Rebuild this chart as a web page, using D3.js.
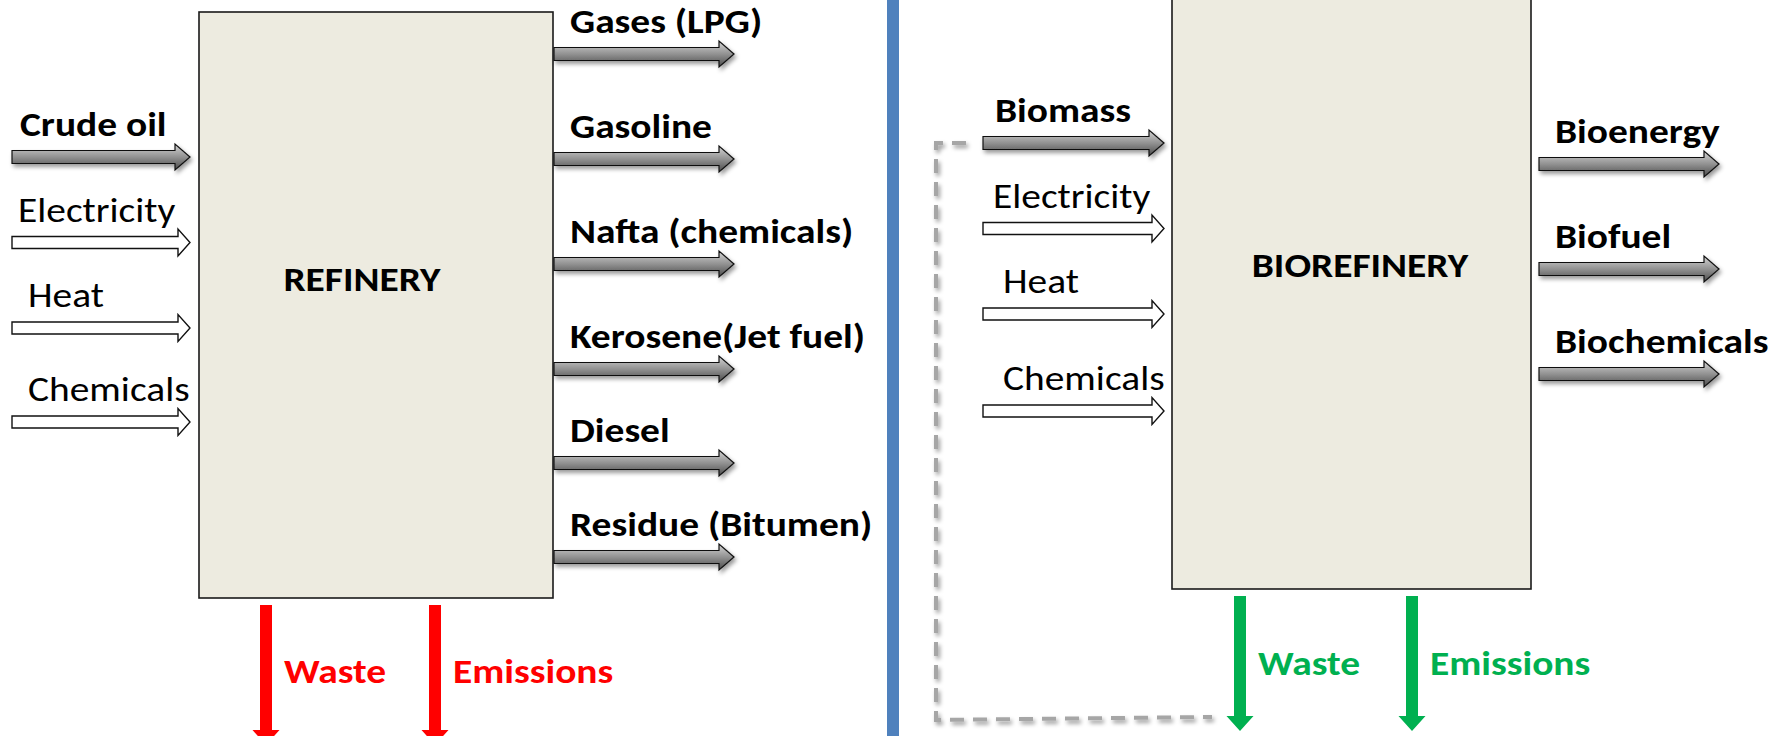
<!DOCTYPE html>
<html lang="en">
<head>
    <meta charset="UTF-8">
    <title>Refinery vs Biorefinery</title>
    <style>
        body { margin: 0; background: #fff; }
        svg { display: block; }
        text { font-family: Carlito, Calibri, Lato, sans-serif; }
    </style>
</head>
<body>
    <svg width="1791" height="736"></svg>
    <script src="https://d3js.org/d3.v7.min.js"></script>
    <script>

        // ---- data ----
        const refineryInputs = ["Crude oil", "Electricity", "Heat", "Chemicals"];
        const refineryInputKinds = ["main", "utility", "utility", "utility"];
        const refineryOutputs = ["Gases (LPG)", "Gasoline", "Nafta (chemicals)", "Kerosene(Jet fuel)", "Diesel", "Residue (Bitumen)"];
        const refineryReleases = ["Waste", "Emissions"];

        const biorefineryInputs = ["Biomass", "Electricity", "Heat", "Chemicals"];
        const biorefineryInputKinds = ["main", "utility", "utility", "utility"];
        const biorefineryOutputs = ["Bioenergy", "Biofuel", "Biochemicals"];
        const biorefineryReleases = ["Waste", "Emissions"];

        // ---- layout ----
        const W = 1791, H = 736;
        const sx = 1.16; // horizontal stretch of the slide text
        const fontSize = 34;

        const panels = [
            {
                name: "REFINERY", box: [199, 12, 553, 598], nameX: 362, nameY: 291,
                inputs: refineryInputs, kinds: refineryInputKinds,
                yIn: d3.scaleLinear().domain([0, 2, 3]).range([157, 328, 422]),
                inX: [12, 190], inLabelX: 20,
                outputs: refineryOutputs,
                yOut: d3.scaleLinear().domain([0, 3, 5]).range([54, 369, 557]),
                outX: [554, 734], outLabelX: 570,
                releases: refineryReleases,
                xRel: d3.scalePoint().domain(refineryReleases).range([266, 435]),
                relY: [605, 745], relLabelY: 683, relColor: "#ff0000"
            },
            {
                name: "BIOREFINERY", box: [1172, -4, 1531, 589], nameX: 1360, nameY: 277,
                inputs: biorefineryInputs, kinds: biorefineryInputKinds,
                yIn: d3.scaleLinear().domain([0, 2, 3]).range([143, 314, 411]),
                inX: [983, 1164], inLabelX: 995,
                outputs: biorefineryOutputs,
                yOut: d3.scaleLinear().domain([0, 2]).range([164, 374]),
                outX: [1539, 1719], outLabelX: 1555,
                releases: biorefineryReleases,
                xRel: d3.scalePoint().domain(biorefineryReleases).range([1240, 1412]),
                relY: [596, 731], relLabelY: 675, relColor: "#00b050"
            }
        ];

        const svg = d3.select("svg");
        const defs = svg.append("defs");

        const grad = defs.append("linearGradient")
            .attr("id", "grayGrad").attr("x1", 0).attr("y1", 0).attr("x2", 0).attr("y2", 1);
        grad.append("stop").attr("offset", "0%").attr("stop-color", "#d4d4d4");
        grad.append("stop").attr("offset", "50%").attr("stop-color", "#929292");
        grad.append("stop").attr("offset", "100%").attr("stop-color", "#4a4a4a");

        const shadow = defs.append("filter").attr("id", "shadow")
            .attr("x", "-10%").attr("y", "-30%").attr("width", "130%").attr("height", "180%");
        shadow.append("feDropShadow")
            .attr("dx", 2).attr("dy", 3).attr("stdDeviation", 2)
            .attr("flood-color", "#000").attr("flood-opacity", 0.4);

        // horizontal block arrow
        function hArrow(x0, x1, y, h, hh, len) {
            const p = d3.path();
            p.moveTo(x0, y - h);
            p.lineTo(x1 - len, y - h);
            p.lineTo(x1 - len, y - hh);
            p.lineTo(x1, y);
            p.lineTo(x1 - len, y + hh);
            p.lineTo(x1 - len, y + h);
            p.lineTo(x0, y + h);
            p.closePath();
            return p.toString();
        }

        // vertical block arrow pointing down
        function vArrow(x, y0, y1, w, hw, len) {
            const p = d3.path();
            p.moveTo(x - w, y0);
            p.lineTo(x + w, y0);
            p.lineTo(x + w, y1 - len);
            p.lineTo(x + hw, y1 - len);
            p.lineTo(x, y1);
            p.lineTo(x - hw, y1 - len);
            p.lineTo(x - w, y1 - len);
            p.closePath();
            return p.toString();
        }

        function label(g, txt, x, y, opts) {
            g.append("text")
                .attr("transform", `translate(${x},${y}) scale(${sx},1)`)
                .attr("font-size", fontSize)
                .attr("font-weight", opts.bold ? "bold" : "normal")
                .attr("fill", opts.color || "#000")
                .attr("text-anchor", opts.anchor || "start")
                .text(txt);
        }

        function grayArrow(g, x0, x1, y) {
            g.append("path")
                .attr("d", hArrow(x0, x1, y, 6.5, 13, 15))
                .attr("fill", "url(#grayGrad)")
                .attr("stroke", "#111")
                .attr("stroke-width", 1.2)
                .attr("filter", "url(#shadow)");
        }

        function whiteArrow(g, x0, x1, y) {
            g.append("path")
                .attr("d", hArrow(x0, x1, y, 6, 13.5, 12))
                .attr("fill", "#fff")
                .attr("stroke", "#111")
                .attr("stroke-width", 1.4);
        }

        // blue divider
        svg.append("rect")
            .attr("x", 887).attr("y", 0).attr("width", 12).attr("height", H)
            .attr("fill", "#4f81bd");

        // recycle loop on the biorefinery side
        const loop = d3.path();
        loop.moveTo(966, 143);
        loop.lineTo(936, 143);
        loop.lineTo(936, 720);
        loop.lineTo(1212, 717);
        svg.append("path")
            .attr("d", loop.toString())
            .attr("fill", "none")
            .attr("stroke", "#a6a6a6")
            .attr("stroke-width", 4)
            .attr("stroke-dasharray", "14 9")
            .attr("filter", "url(#shadow)");

        panels.forEach(pn => {
            const g = svg.append("g");
            const [bx0, by0, bx1, by1] = pn.box;

            g.append("rect")
                .attr("x", bx0).attr("y", by0)
                .attr("width", bx1 - bx0).attr("height", by1 - by0)
                .attr("fill", "#edebe0")
                .attr("stroke", "#1a1a1a")
                .attr("stroke-width", 1.6);

            label(g, pn.name, pn.nameX, pn.nameY, { bold: true, anchor: "middle" });

            // inputs
            pn.inputs.forEach((d, i) => {
                const y = pn.yIn(i);
                if (pn.kinds[i] === "main") grayArrow(g, pn.inX[0], pn.inX[1], y);
                else whiteArrow(g, pn.inX[0], pn.inX[1], y);
                label(g, d, pn.inLabelX + (pn.kinds[i] === "main" ? 0 : (i > 1 ? 8 : -2)),
                    y - 21, { bold: pn.kinds[i] === "main" });
            });

            // outputs
            pn.outputs.forEach((d, i) => {
                const y = pn.yOut(i);
                grayArrow(g, pn.outX[0], pn.outX[1], y);
                label(g, d, pn.outLabelX, y - 21, { bold: true });
            });

            // waste & emissions
            pn.releases.forEach(d => {
                const x = pn.xRel(d);
                g.append("path")
                    .attr("d", vArrow(x, pn.relY[0], pn.relY[1], 6, 13.5, 15))
                    .attr("fill", pn.relColor);
                label(g, d, x + 18, pn.relLabelY, { bold: true, color: pn.relColor });
            });
        });

    </script>
</body>
</html>
